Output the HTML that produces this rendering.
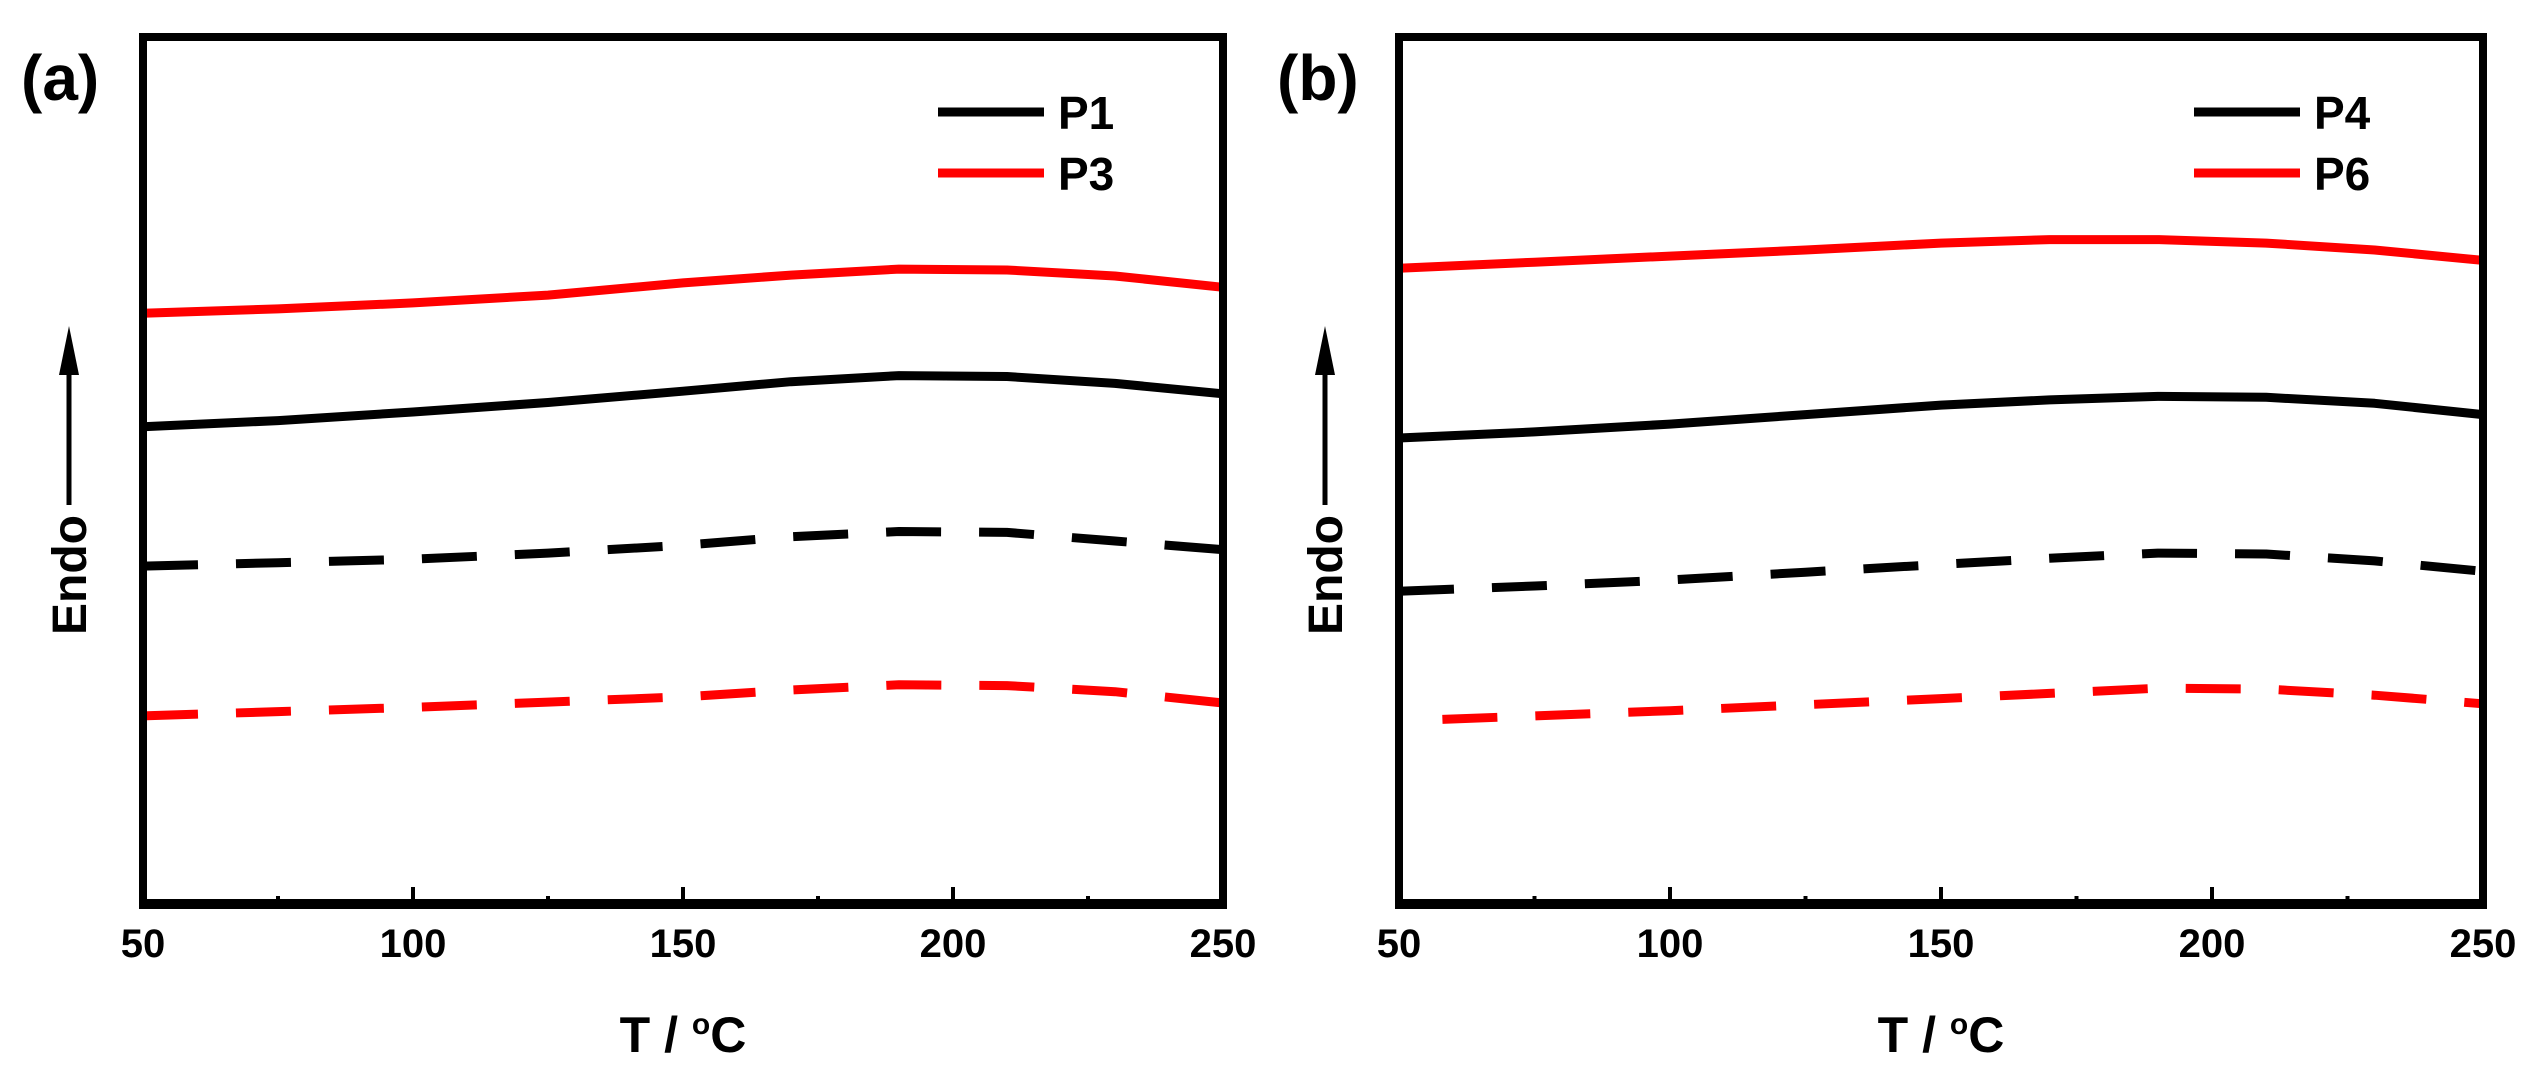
<!DOCTYPE html>
<html><head><meta charset="utf-8"><style>
html,body{margin:0;padding:0;background:#fff;width:2545px;height:1086px;overflow:hidden}
svg{display:block}
text{font-family:"Liberation Sans",Arial,sans-serif;font-weight:bold;fill:#000}
</style></head><body>
<svg id="chart" width="2545" height="1086" viewBox="0 0 2545 1086" xmlns="http://www.w3.org/2000/svg"></svg>
<script>
const xTicks = [50, 100, 150, 200, 250];
const xMinor = [75, 125, 175, 225];
const xA = [50, 75, 100, 125, 150, 170, 190, 210, 230, 250];
const p3Solid = [68.1, 68.6, 69.3, 70.2, 71.6, 72.5, 73.2, 73.1, 72.4, 71.1];
const p1Solid = [55.0, 55.7, 56.7, 57.8, 59.1, 60.2, 60.9, 60.8, 60.0, 58.8];
const p1Dash = [38.9, 39.3, 39.7, 40.4, 41.3, 42.3, 42.9, 42.8, 41.8, 40.8];
const p3Dash = [21.6, 22.1, 22.6, 23.2, 23.8, 24.6, 25.2, 25.1, 24.4, 23.1];
const xB = [50, 75, 100, 125, 150, 170, 190, 210, 230, 250];
const p6Solid = [73.3, 74.0, 74.7, 75.4, 76.2, 76.6, 76.6, 76.2, 75.4, 74.2];
const p4Solid = [53.7, 54.4, 55.3, 56.4, 57.5, 58.1, 58.5, 58.4, 57.7, 56.4];
const p4Dash = [36.0, 36.6, 37.3, 38.2, 39.1, 39.8, 40.4, 40.3, 39.5, 38.3];
const xB2 = [58, 75, 100, 125, 150, 170, 190, 210, 230, 250];
const p6Dash = [21.2, 21.6, 22.2, 22.9, 23.6, 24.2, 24.8, 24.7, 24.0, 23.0];

const svg = document.getElementById('chart');
const NS = 'http://www.w3.org/2000/svg';
function mk(tag, attrs, parent) {
  const e = document.createElementNS(NS, tag);
  for (const k in attrs) e.setAttribute(k, attrs[k]);
  (parent || svg).appendChild(e);
  return e;
}
const plotTop = 37, plotBottom = 903;
function yS(v) { return plotBottom - v / 100 * (plotBottom - plotTop); }

function panel(left, right, letter, series, legendNames, key) {
  const g = mk('g', {});
  
  
  const xS = t => left + (t - 50) / 200 * (right - left);
  series.forEach(s => {
    const d = s.x.map((t, i) => (i ? 'L' : 'M') + xS(t).toFixed(1) + ' ' + yS(s.y[i]).toFixed(1)).join(' ');
    const p = mk('path', {d: d, fill: 'none', stroke: s.c, 'stroke-width': 9, 'stroke-linejoin': 'round'}, g);
    if (s.dash) p.setAttribute('stroke-dasharray', '55 38');
    
    
  });
  const fr = mk('rect', {x: left, y: plotTop, width: right - left, height: plotBottom - plotTop, fill: 'none', stroke: '#000', 'stroke-width': 8}, g);
  
  
  mk('line', {x1: left - 4, x2: right + 4, y1: plotBottom + 1, y2: plotBottom + 1, stroke: '#000', 'stroke-width': 10}, g);
  xTicks.forEach(t => {
    const tk = mk('line', {x1: xS(t), x2: xS(t), y1: plotBottom, y2: plotBottom - 16, stroke: '#000', 'stroke-width': 4}, g);
    
    
    const tl = mk('text', {x: xS(t), y: 957, 'font-size': 40, 'text-anchor': 'middle'}, g);
    tl.textContent = t;
    
    
  });
  xMinor.forEach(t => {
    const tk = mk('line', {x1: xS(t), x2: xS(t), y1: plotBottom, y2: plotBottom - 7, stroke: '#000', 'stroke-width': 4}, g);
    
    
  });
  const xt = mk('text', {x: (left + right) / 2, y: 1052, 'font-size': 50, 'text-anchor': 'middle'}, g);
  xt.innerHTML = 'T / <tspan dy="-18" font-size="30">o</tspan><tspan dy="18">C</tspan>';
  
  
  const pl = mk('text', {x: left - 122, y: 100, 'font-size': 64}, g);
  pl.textContent = '(' + letter + ')';
  
  
  const ax = left - 74;
  const ar = mk('line', {x1: ax, x2: ax, y1: 370, y2: 505, stroke: '#000', 'stroke-width': 5}, g);
  
  
  mk('polygon', {points: `${ax},326 ${ax - 10},375 ${ax + 10},375`, fill: '#000'}, g);
  const yt = mk('text', {x: ax, y: 575, dy: 17, 'font-size': 48, 'text-anchor': 'middle', transform: `rotate(-90 ${ax} 575)`}, g);
  yt.textContent = 'Endo';
  
  
  const lx = left + 795;
  [[legendNames[0], '#000', 112], [legendNames[1], '#f00', 173]].forEach(([n, c, y]) => {
    const lg = mk('g', {}, g);
    
    
    mk('line', {x1: lx, x2: lx + 106, y1: y, y2: y, stroke: c, 'stroke-width': 9}, lg);
    const t = mk('text', {x: lx + 120, y: y + 17, 'font-size': 46}, lg);
    t.textContent = n;
  });
}

panel(143, 1223, 'a', [
  {x: xA, y: p3Solid, c: '#f00', name: 'p3-solid-line'},
  {x: xA, y: p1Solid, c: '#000', name: 'p1-solid-line'},
  {x: xA, y: p1Dash, c: '#000', dash: true, name: 'p1-dashed-line'},
  {x: xA, y: p3Dash, c: '#f00', dash: true, name: 'p3-dashed-line'}
], ['P1', 'P3'], 'a');
panel(1399, 2483, 'b', [
  {x: xB, y: p6Solid, c: '#f00', name: 'p6-solid-line'},
  {x: xB, y: p4Solid, c: '#000', name: 'p4-solid-line'},
  {x: xB, y: p4Dash, c: '#000', dash: true, name: 'p4-dashed-line'},
  {x: xB2, y: p6Dash, c: '#f00', dash: true, name: 'p6-dashed-line'}
], ['P4', 'P6'], 'b');
</script>
</body></html>
